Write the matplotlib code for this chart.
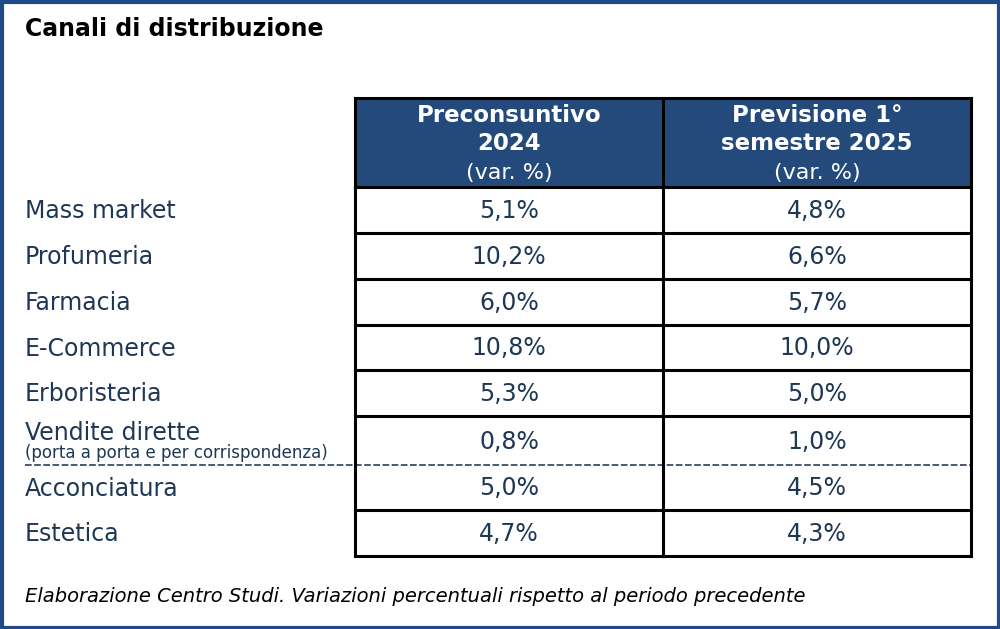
import matplotlib
matplotlib.use("Agg")
import matplotlib.pyplot as plt
from matplotlib.patches import Rectangle

plt.rcParams['font.family'] = ['DejaVu Sans']

title = "Canali di distribuzione"
col_headers = [["Preconsuntivo", "2024"], ["Previsione 1°", "semestre 2025"]]
col_sub = "(var. %)"
categories = ["Mass market", "Profumeria", "Farmacia", "E-Commerce", "Erboristeria",
              "Vendite dirette", "Acconciatura", "Estetica"]
sublabels = {"Vendite dirette": "(porta a porta e per corrispondenza)"}
values_2024 = [5.1, 10.2, 6.0, 10.8, 5.3, 0.8, 5.0, 4.7]
values_2025 = [4.8, 6.6, 5.7, 10.0, 5.0, 1.0, 4.5, 4.3]
footnote = "Elaborazione Centro Studi. Variazioni percentuali rispetto al periodo precedente"

W, H = 1000, 629
fig = plt.figure(figsize=(10, 6.29), dpi=100)
ax = fig.add_axes([0, 0, 1, 1])
ax.set_xlim(0, W)
ax.set_ylim(H, 0)
ax.axis("off")

blue = "#1f4b8a"
header_col = "#244a7c"
txt = "#1e3754"

ax.add_patch(Rectangle((1.5, 1.5), W - 3, H - 3, fill=False, ec=blue, lw=3))

ax.text(25, 29, title, fontsize=17, fontweight="bold", color="black", va="center", ha="left")

x0, xm, x1 = 355, 663, 971
ytop, yh = 98, 187
row_edges = [187, 233, 279, 325, 370, 416, 465, 510, 556]

ax.add_patch(Rectangle((x0, ytop), x1 - x0, yh - ytop, fc=header_col, ec="none"))
for i, lines in enumerate(col_headers):
    cx = (x0 + xm) / 2 if i == 0 else (xm + x1) / 2
    ax.text(cx, 115, lines[0], fontsize=16.5, fontweight="bold", color="white", ha="center", va="center")
    ax.text(cx, 144, lines[1], fontsize=16.5, fontweight="bold", color="white", ha="center", va="center")
    ax.text(cx, 173, col_sub, fontsize=16, color="white", ha="center", va="center")

def fmt(v):
    return f"{v:.1f}".replace(".", ",") + "%"

for i, cat in enumerate(categories):
    top, bot = row_edges[i], row_edges[i + 1]
    cy = (top + bot) / 2 + 1
    if cat in sublabels:
        ax.text(25, cy - 9, cat, fontsize=17, color=txt, ha="left", va="center")
        ax.text(25, cy + 12, sublabels[cat], fontsize=12, color=txt, ha="left", va="center")
    else:
        ax.text(25, cy, cat, fontsize=17, color=txt, ha="left", va="center")
    ax.text((x0 + xm) / 2, cy, fmt(values_2024[i]), fontsize=17, color=txt, ha="center", va="center")
    ax.text((xm + x1) / 2, cy, fmt(values_2025[i]), fontsize=17, color=txt, ha="center", va="center")

lw = 2.2
for j, y in enumerate(row_edges):
    if y == 465:
        ax.plot([25, x1], [y, y], color="#2a3f5a", lw=1.2, ls=(0, (4, 1.5)))
    else:
        ax.plot([x0, x1], [y, y], color="black", lw=lw, solid_capstyle="projecting")
ax.plot([x0, x1], [ytop, ytop], color="black", lw=lw, solid_capstyle="projecting")
for x in (x0, xm, x1):
    ax.plot([x, x], [ytop, row_edges[-1]], color="black", lw=lw, solid_capstyle="projecting")

ax.text(25, 597, footnote, fontsize=14, style="italic", color="black", ha="left", va="center")

fig.savefig("out.png", dpi=100)
